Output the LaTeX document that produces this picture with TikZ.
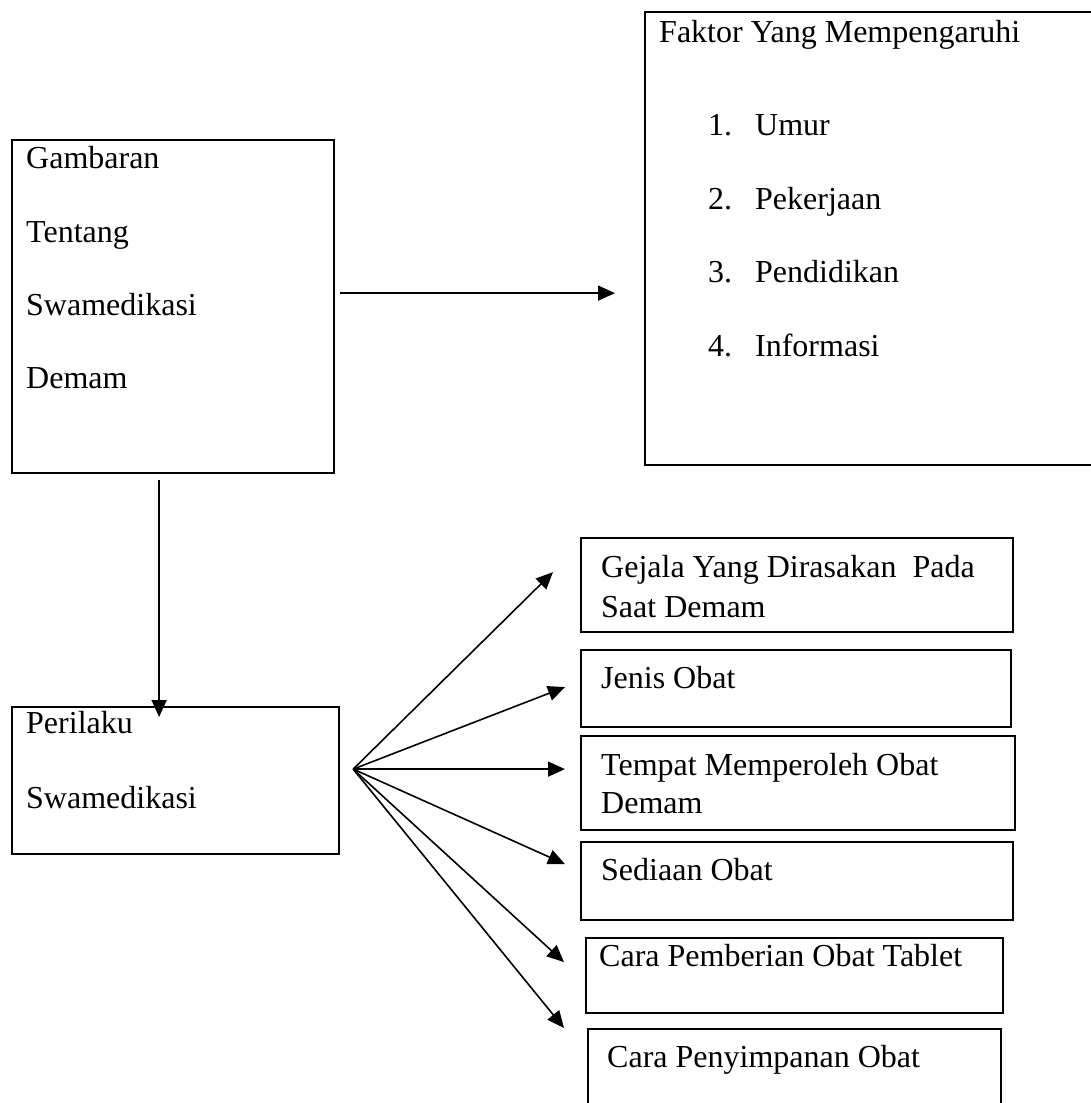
\documentclass[tikz,border=0pt]{standalone}
\usepackage{fontspec}
\setmainfont{Liberation Serif}
\usetikzlibrary{arrows.meta}

\begin{document}
\begin{tikzpicture}[x=1pt, y=-1pt,
  box/.style={draw, line width=2.2pt, anchor=north west, inner sep=0pt},
  txt/.style={anchor=base west, inner sep=0pt, font=\fontsize{32}{38}\selectfont},
  arr/.style={line width=1.6pt, -{Triangle[length=17pt,width=15pt]}}]
  \useasboundingbox (0,0) rectangle (1091,1103);

  % left column
  \node[box, minimum width=322pt, minimum height=333pt] (gamb) at (11,139) {};
  \node[txt] (gamb1) at (26,168) {Gambaran};
  \node[txt] (gamb2) at (26,242) {Tentang};
  \node[txt] (gamb3) at (26,315) {Swamedikasi};
  \node[txt] (gamb4) at (26,388) {Demam};

  \node[box, minimum width=327pt, minimum height=147pt] (peril) at (11,706) {};
  \node[txt] (peril1) at (26,733) {Perilaku};
  \node[txt] (peril2) at (26,808) {Swamedikasi};

  % factors
  \node[box, minimum width=480pt, minimum height=453pt] (faktor) at (644,11) {};
  \node[txt] (fak0) at (659,42) {Faktor Yang Mempengaruhi};
  \node[txt] (fak1) at (708,135) {\makebox[47pt][l]{1.}Umur};
  \node[txt] (fak2) at (708,209) {\makebox[47pt][l]{2.}Pekerjaan};
  \node[txt] (fak3) at (708,282) {\makebox[47pt][l]{3.}Pendidikan};
  \node[txt] (fak4) at (708,356) {\makebox[47pt][l]{4.}Informasi};

  % right column
  \node[box, minimum width=432pt, minimum height=94pt] (gejala) at (580,537) {};
  \node[txt] (gejala1) at (601,577) {Gejala Yang Dirasakan\ \ Pada};
  \node[txt] (gejala2) at (601,617) {Saat Demam};

  \node[box, minimum width=430pt, minimum height=77pt] (jenis) at (580,649) {};
  \node[txt] (jenis1) at (601,688) {Jenis Obat};

  \node[box, minimum width=434pt, minimum height=94pt] (tempat) at (580,735) {};
  \node[txt] (tempat1) at (601,775) {Tempat Memperoleh Obat};
  \node[txt] (tempat2) at (601,813) {Demam};

  \node[box, minimum width=432pt, minimum height=78pt] (sediaan) at (580,841) {};
  \node[txt] (sediaan1) at (601,880) {Sediaan Obat};

  \node[box, minimum width=417pt, minimum height=75pt] (beri) at (585,937) {};
  \node[txt] (beri1) at (599,966) {Cara Pemberian Obat Tablet};

  \node[box, minimum width=413pt, minimum height=100pt] (simpan) at (587,1028) {};
  \node[txt] (simpan1) at (607,1067) {Cara Penyimpanan Obat};

  % connectors
  \coordinate (gout) at ([xshift=5pt, yshift=13.5pt]gamb.east);
  \draw[arr, shorten >=29pt] (gout) -- (gout -| faktor.west);

  \coordinate (gdown) at ([xshift=-14pt, yshift=-6pt]gamb.south);
  \draw[arr, shorten >=-11pt] (gdown) -- (gdown |- peril.north);

  \coordinate (fan) at ([xshift=13pt, yshift=11.5pt]peril.east);
  \coordinate (t1) at ([xshift=-27pt, yshift=13pt]gejala.west);
  \coordinate (t2) at ([xshift=-15pt, yshift=1.5pt]jenis.west);
  \path (fan -| tempat.west) ++(-15,0) coordinate (t3);
  \coordinate (t4) at ([xshift=-15pt, yshift=17pt]sediaan.west);
  \coordinate (t5) at ([xshift=-21pt, yshift=13.5pt]beri.west);
  \coordinate (t6) at ([xshift=-23pt]simpan.north west);
  \foreach \t in {t1,t2,t3,t4,t5,t6}
    \draw[arr] (fan) -- (\t);
\end{tikzpicture}
\end{document}
